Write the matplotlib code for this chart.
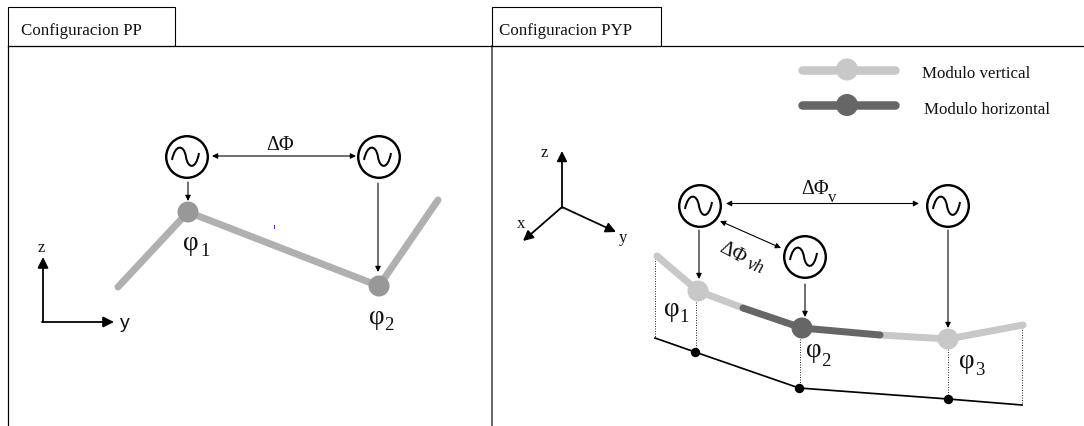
#!/usr/bin/env python3
from __future__ import annotations

import matplotlib
matplotlib.use("Agg")
import matplotlib.pyplot as plt
from matplotlib.patches import Circle, PathPatch, Rectangle
from matplotlib.path import Path

TITLES = ["Configuracion PP", "Configuracion PYP"]
TITLE_X = [21, 499]

PP_CHAIN_X = [118, 188, 379, 438]
PP_CHAIN_Y = [288, 213, 287, 201]
PP_NODES_X = [188, 379]
PP_NODES_Y = [213, 287]
PP_OSC_X = [187, 379]
PP_OSC_Y = [158, 158]

PYP_LIGHT1_X = [657, 698, 743]
PYP_LIGHT1_Y = [257, 292, 309]
PYP_DARK_X = [743, 802, 880]
PYP_DARK_Y = [309, 329, 336]
PYP_LIGHT2_X = [880, 948, 1023]
PYP_LIGHT2_Y = [336, 340, 326]
PYP_OSC_X = [700, 805, 948]
PYP_OSC_Y = [207, 258, 207]

GROUND_X = [655, 695, 799, 948, 1022]
GROUND_Y = [339, 353, 389, 400, 406]
DOT_X = [695, 799, 948]
DOT_Y = [353, 389, 400]
DROP_X = [655, 696, 800, 948, 1022]
DROP_TOP = [259, 303, 340, 350, 328]
DROP_BOTTOM = [339, 353, 389, 400, 406]

PHI_SUBS = ["1", "2", "1", "2", "3"]
PHI_X = [191, 377, 672, 814, 967]
PHI_Y = [241, 315, 307, 348, 359]
SUB_X = [205, 389, 684, 826, 980]
SUB_Y = [250, 324, 316, 360, 369]

LIGHT = "#c8c8c8"
DARK = "#666666"
PP_GREY = "#b0b0b0"
PP_NODE = "#989898"
SERIF = "Liberation Serif"


def px(width: float) -> float:
    return width * 0.72


def arrow(ax, start, end, style="-|>", width=1.1, scale=8) -> None:
    ax.annotate(
        "",
        xy=end,
        xytext=start,
        arrowprops=dict(
            arrowstyle=style,
            color="black",
            lw=px(width),
            mutation_scale=scale,
            shrinkA=0,
            shrinkB=0,
        ),
    )


def oscillator(ax, x: float, y: float) -> None:
    ax.add_patch(Circle((x, y), 20.8, fc="white", ec="black", lw=px(2.4), zorder=4))
    verts = [
        (x - 15, y + 3),
        (x - 12, y - 13),
        (x - 3, y - 13),
        (x - 1, y),
        (x + 1, y + 12),
        (x + 9, y + 13),
        (x + 12, y - 4),
    ]
    codes = [Path.MOVETO] + [Path.CURVE4] * 6
    ax.add_patch(PathPatch(Path(verts, codes), fc="none", ec="black", lw=px(2), zorder=5))


def chain(ax, xs, ys, color: str, width: float = 7) -> None:
    ax.plot(xs, ys, color=color, lw=px(width), solid_capstyle="round",
            solid_joinstyle="round", zorder=2)


def node(ax, x: float, y: float, color: str, r: float = 10.5) -> None:
    ax.add_patch(Circle((x, y), r, fc=color, ec="none", zorder=3))


def label(ax, x, y, s, size=12, family=SERIF, **kw) -> None:
    kw.setdefault("ha", "center")
    kw.setdefault("va", "center_baseline")
    ax.text(x, y, s, fontsize=size, family=family, color="#111111", **kw)


def draw_frames(ax) -> None:
    ax.plot([8, 8], [47, 427], color="black", lw=px(1.2))
    ax.plot([491.5, 491.5], [47, 427], color="#444444", lw=px(1.6))
    ax.plot([8, 1084], [47, 47], color="black", lw=px(1.2))
    ax.add_patch(Rectangle((8, 8), 167, 39, fc="white", ec="black", lw=px(1.1)))
    ax.add_patch(Rectangle((492, 8), 169, 39, fc="white", ec="black", lw=px(1.1)))
    for x, title in zip(TITLE_X, TITLES):
        label(ax, x, 29, title, size=12.2, ha="left")


def draw_pp(ax) -> None:
    chain(ax, PP_CHAIN_X, PP_CHAIN_Y, PP_GREY)
    for x, y in zip(PP_NODES_X, PP_NODES_Y):
        node(ax, x, y, PP_NODE)
    for x, y in zip(PP_OSC_X, PP_OSC_Y):
        oscillator(ax, x, y)

    arrow(ax, (212, 157), (356, 157), style="<|-|>")
    arrow(ax, (188, 183), (188, 202))
    arrow(ax, (378, 184), (378, 273))
    label(ax, 280, 143, "ΔΦ", size=14.5)

    # y/z axes
    arrow(ax, (43, 323), (43, 258), width=1.8, scale=16)
    arrow(ax, (42, 323), (114, 323), width=1.8, scale=16)
    label(ax, 41, 246, "z", size=12)
    label(ax, 125, 322, "y", size=14, family="Liberation Sans")
    ax.plot([274, 274], [226, 228.5], color="#3030d0", lw=0.7)


def draw_pyp(ax) -> None:
    chain(ax, PYP_LIGHT1_X, PYP_LIGHT1_Y, LIGHT)
    chain(ax, PYP_LIGHT2_X, PYP_LIGHT2_Y, LIGHT)
    chain(ax, PYP_DARK_X, PYP_DARK_Y, DARK)
    node(ax, PYP_LIGHT1_X[1], PYP_LIGHT1_Y[1], LIGHT)
    node(ax, PYP_DARK_X[1], PYP_DARK_Y[1], DARK)
    node(ax, PYP_LIGHT2_X[1], PYP_LIGHT2_Y[1], LIGHT)
    for x, y in zip(PYP_OSC_X, PYP_OSC_Y):
        oscillator(ax, x, y)

    arrow(ax, (726, 204.5), (919, 204.5), style="<|-|>")
    arrow(ax, (720, 222), (781, 249), style="<|-|>")
    arrow(ax, (699, 231), (699, 280))
    arrow(ax, (805, 285), (805, 318))
    arrow(ax, (948, 231), (948, 329))
    label(ax, 815, 187, "ΔΦ", size=14.5)
    label(ax, 832, 196, "v", size=12)
    label(ax, 733, 246, "ΔΦ", size=14.5, rotation=-28)
    label(ax, 755, 262, "vh", size=13, rotation=-20, style="italic")

    ax.plot(GROUND_X, GROUND_Y, color="black", lw=px(1.7), zorder=2)
    ax.plot(DOT_X, DOT_Y, "o", color="black", ms=px(8), zorder=3)
    for x, top, bottom in zip(DROP_X, DROP_TOP, DROP_BOTTOM):
        ax.plot([x, x], [top, bottom], color="#333333", lw=px(1), ls=(0, (1, 1.5)), zorder=1)

    # x/y/z axes
    arrow(ax, (562, 209), (562, 152), width=1.8, scale=15)
    arrow(ax, (562, 208), (523, 242), width=1.8, scale=15)
    arrow(ax, (562, 208), (616, 233), width=1.8, scale=15)
    label(ax, 544, 151, "z", size=12)
    label(ax, 521, 222, "x", size=12)
    label(ax, 623, 236, "y", size=12)

    # legend
    for y, color, text, tx in [(70.5, LIGHT, "Modulo vertical", 922), (106, DARK, "Modulo horizontal", 924)]:
        chain(ax, [802, 895], [y, y], color, width=8.5)
        node(ax, 847, y, color, r=11)
        label(ax, tx, y + 1.5, text, size=12.2, ha="left")


def draw_phis(ax) -> None:
    for x, y, sx, sy, sub in zip(PHI_X, PHI_Y, SUB_X, SUB_Y, PHI_SUBS):
        label(ax, x, y, "φ", size=19.5)
        label(ax, sx, sy, sub, size=13.5)


def main() -> int:
    fig = plt.figure(figsize=(10.84, 4.27), dpi=100)
    ax = fig.add_axes([0, 0, 1, 1])
    ax.set_xlim(0, 1084)
    ax.set_ylim(427, 0)
    ax.axis("off")

    draw_frames(ax)
    draw_pp(ax)
    draw_pyp(ax)
    draw_phis(ax)

    fig.savefig("out.png", dpi=100)
    plt.close(fig)
    return 0


if __name__ == "__main__":
    raise SystemExit(main())
